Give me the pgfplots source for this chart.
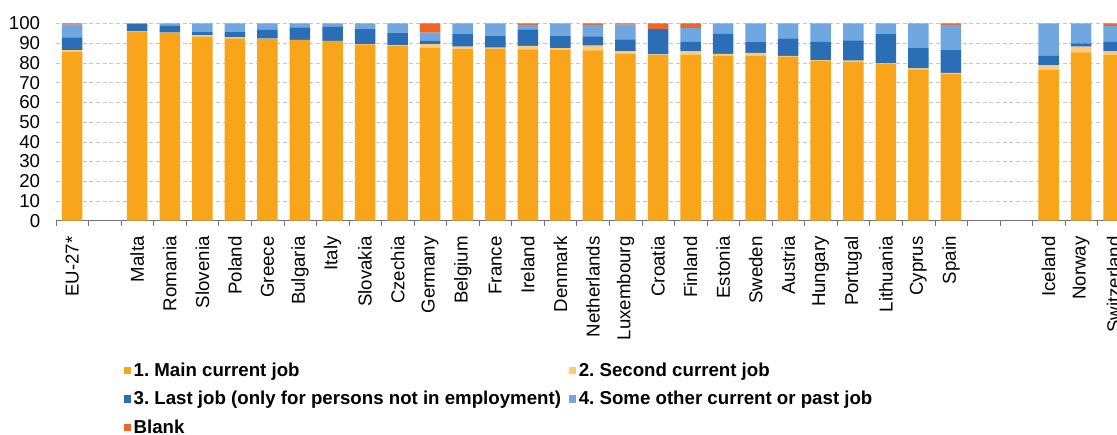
\documentclass[border=0pt]{standalone}
\usepackage{fontspec}
\setmainfont{Liberation Sans}
\usepackage{pgfplots}
\usepackage{pgfplotstable}
\pgfplotsset{compat=1.18}
\frenchspacing
\definecolor{cMain}{HTML}{F8A51B}
\definecolor{cSecond}{HTML}{FECB7E}
\definecolor{cLast}{HTML}{2A6EB5}
\definecolor{cOther}{HTML}{71A7E0}
\definecolor{cBlank}{HTML}{F06424}
\pgfplotstableread{
x main second last other blank
0 85.5 1.0 6.5 6.4 0.6
2 95.8 0.2 3.8 0.2 0.0
3 95.2 0.2 3.4 1.2 0.0
4 93.2 0.8 1.9 4.1 0.0
5 92.5 0.4 2.9 4.2 0.0
6 92.1 0.2 4.4 3.3 0.0
7 91.6 0.1 6.3 2.0 0.0
8 91.0 0.2 7.1 1.7 0.0
9 89.4 0.1 7.6 2.9 0.0
10 88.6 0.4 6.3 4.7 0.0
11 87.7 1.8 1.7 4.1 4.7
12 87.0 1.2 6.4 5.4 0.0
13 87.1 0.6 5.9 6.4 0.0
14 86.8 1.8 8.4 2.3 0.7
15 86.5 1.0 6.1 6.4 0.0
16 86.4 2.4 4.7 5.8 0.7
17 84.5 1.3 6.1 7.5 0.6
18 84.0 0.3 12.8 0.1 2.8
19 84.1 1.7 4.9 6.9 2.4
20 83.6 1.0 10.1 5.3 0.0
21 83.6 1.5 5.4 9.5 0.0
22 83.1 0.5 8.8 7.6 0.0
23 81.0 0.4 9.3 9.3 0.0
24 80.6 0.6 10.2 8.6 0.0
25 79.4 0.3 15.2 5.1 0.0
26 76.7 0.5 10.5 12.3 0.0
27 74.3 0.7 11.5 12.8 0.7
30 76.4 2.3 4.9 16.4 0.0
31 85.3 2.9 1.7 10.1 0.0
32 84.0 1.8 4.9 8.1 1.2
}\datatable
\begin{document}
\begin{tikzpicture}
\begin{axis}[
  scale only axis,
  width=805.5pt, height=147.9pt,
  xmin=-0.5, xmax=32.5,
  ymin=0, ymax=100,
  ybar stacked,
  bar width=0.63,
  axis x line*=bottom,
  axis y line*=left,
  x axis line style={-, draw=black!55},
  y axis line style={draw=none},
  ytick={0,10,...,100},
  ytick style={draw=none},
  ymajorgrids,
  grid style={densely dashed, black!22},
  xtick={0,2,3,4,5,6,7,8,9,10,11,12,13,14,15,16,17,18,19,20,21,22,23,24,25,26,27,30,31,32},
  xticklabels={EU-27*,Malta,Romania,Slovenia,Poland,Greece,Bulgaria,Italy,Slovakia,Czechia,Germany,Belgium,France,Ireland,Denmark,Netherlands,Luxembourg,Croatia,Finland,Estonia,Sweden,Austria,Hungary,Portugal,Lithuania,Cyprus,Spain,Iceland,Norway,Switzerland},
  major x tick style={draw=none},
  minor xtick={-0.5,0.5,...,32.5},
  minor x tick style={draw=black!55},
  tick align=outside,
  minor tick length=4pt,
  xticklabel style={rotate=90, anchor=east, font=\fontsize{14}{16}\selectfont, xshift=-4pt},
  yticklabel style={font=\fontsize{14}{16}\selectfont, xshift=-4pt},
  /pgf/number format/assume math mode=true,
  legend columns=2,
  legend cell align=left,
  legend style={at={(0.063,-0.705)}, anchor=north west, draw=none, fill=none,
    font=\bfseries\fontsize{14}{16}\selectfont, row sep=5.8pt, inner sep=0pt,
    /tikz/every even column/.append style={column sep=4pt}},
  legend image code/.code={\path[#1, draw=none] (0pt,-2.7pt) rectangle (5.4pt,2.7pt);},
]
\addplot[fill=cMain, draw=none] table[x=x, y=main] {\datatable};
\addplot[fill=cSecond, draw=none] table[x=x, y=second] {\datatable};
\addplot[fill=cLast, draw=none] table[x=x, y=last] {\datatable};
\addplot[fill=cOther, draw=none] table[x=x, y=other] {\datatable};
\addplot[fill=cBlank, draw=none] table[x=x, y=blank] {\datatable};
\legend{1. Main current job, 2. Second current job, 3. Last job (only for persons not in employment), 4. Some other current or past job, Blank}
\end{axis}
\pgfresetboundingbox
\useasboundingbox (-41.9pt,-160pt) rectangle (795.8pt,165.5pt);
\end{tikzpicture}
\end{document}
